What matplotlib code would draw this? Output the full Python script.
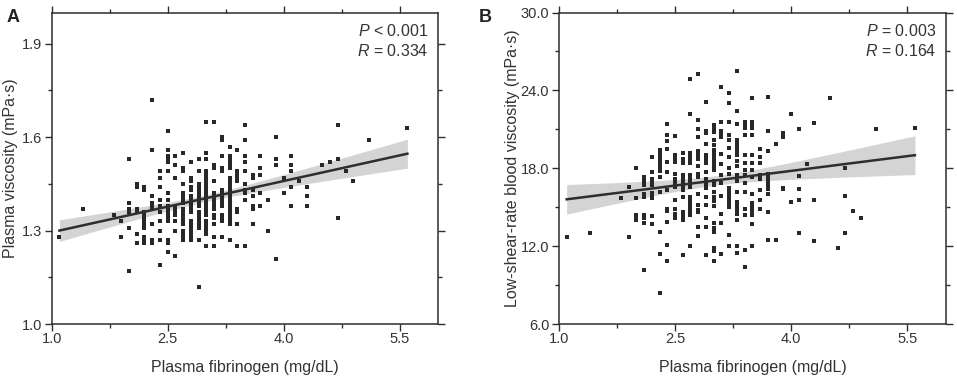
import numpy as np
import matplotlib
matplotlib.use("Agg")
import matplotlib.pyplot as plt

plt.rcParams['font.family'] = ['Liberation Sans', 'DejaVu Sans']
plt.rcParams['mathtext.fontset'] = 'custom'
plt.rcParams['mathtext.rm'] = 'Liberation Sans'
plt.rcParams['mathtext.it'] = 'Liberation Sans:italic'

# fibrinogen columns (mg/dL) and the values
fib_cols = [1.1, 1.4, 1.8, 1.9, 2.0, 2.1, 2.2, 2.3, 2.4, 2.5, 2.6, 2.7, 2.8, 2.9,
            3.0, 3.1, 3.2, 3.3, 3.4, 3.5, 3.6, 3.7, 3.8, 3.9, 4.0, 4.1, 4.2, 4.3,
            4.5, 4.6, 4.7, 4.8, 4.9, 5.1, 5.6]

# panel A: plasma viscosity (mPa.s)
pv_cols = [
    [1.28],
    [1.37],
    [1.35],
    [1.33, 1.28],
    [1.53, 1.39, 1.37, 1.36, 1.31, 1.17],
    [1.45, 1.44, 1.37, 1.36, 1.29, 1.26],
    [1.44, 1.43, 1.36, 1.35, 1.34, 1.33, 1.32, 1.31, 1.28, 1.27, 1.26],
    [1.72, 1.56, 1.41, 1.39, 1.38, 1.37, 1.32, 1.27, 1.26],
    [1.49, 1.47, 1.44, 1.40, 1.38, 1.36, 1.33, 1.30, 1.27, 1.19],
    [1.62, 1.56, 1.54, 1.53, 1.52, 1.49, 1.42, 1.40, 1.38, 1.37, 1.36, 1.35, 1.34, 1.33, 1.27, 1.26, 1.23],
    [1.54, 1.51, 1.47, 1.38, 1.37, 1.36, 1.35, 1.33, 1.30, 1.22],
    [1.55, 1.50, 1.49, 1.45, 1.42, 1.41, 1.40, 1.39, 1.37, 1.36, 1.35, 1.34, 1.33, 1.32, 1.30, 1.29, 1.28, 1.27],
    [1.52, 1.47, 1.46, 1.44, 1.43, 1.41, 1.40, 1.39, 1.38, 1.37, 1.36, 1.33, 1.32, 1.31, 1.30, 1.29, 1.28, 1.27],
    [1.53, 1.49, 1.45, 1.44, 1.43, 1.42, 1.41, 1.40, 1.39, 1.38, 1.36, 1.35, 1.34, 1.33, 1.32, 1.31, 1.27, 1.12],
    [1.65, 1.55, 1.53, 1.49, 1.48, 1.47, 1.46, 1.45, 1.44, 1.43, 1.42, 1.41, 1.40, 1.39, 1.38, 1.37, 1.36, 1.35,
     1.33, 1.32, 1.31, 1.30, 1.29, 1.25],
    [1.65, 1.51, 1.50, 1.46, 1.42, 1.41, 1.40, 1.39, 1.38, 1.37, 1.35, 1.34, 1.32, 1.28, 1.25],
    [1.60, 1.59, 1.54, 1.50, 1.49, 1.43, 1.42, 1.41, 1.40, 1.39, 1.38, 1.35, 1.34, 1.33, 1.28],
    [1.57, 1.54, 1.53, 1.52, 1.51, 1.50, 1.47, 1.46, 1.45, 1.44, 1.43, 1.42, 1.41, 1.40, 1.39, 1.38, 1.37, 1.36,
     1.35, 1.34, 1.33, 1.32, 1.27],
    [1.56, 1.49, 1.48, 1.47, 1.46, 1.37, 1.36, 1.32, 1.25],
    [1.64, 1.59, 1.54, 1.52, 1.49, 1.45, 1.43, 1.42, 1.40, 1.25],
    [1.48, 1.47, 1.43, 1.41, 1.38, 1.37, 1.32],
    [1.54, 1.50, 1.48, 1.42, 1.38],
    [1.40, 1.30],
    [1.60, 1.53, 1.51, 1.21],
    [1.47, 1.42],
    [1.54, 1.51, 1.49, 1.44, 1.38],
    [1.46],
    [1.44, 1.41, 1.38],
    [1.51],
    [1.52],
    [1.64, 1.53, 1.34],
    [1.49],
    [1.46],
    [1.59],
    [1.63],
]

# panel B: low-shear-rate blood viscosity (mPa.s)
lsv_cols = [
    [12.7],
    [13.0],
    [15.7],
    [16.6, 12.7],
    [18.0, 15.7, 14.4, 14.2, 14.0],
    [17.3, 17.0, 16.7, 16.0, 15.8, 14.4, 14.2, 13.8, 10.2],
    [18.9, 17.7, 17.2, 16.9, 16.7, 16.1, 15.9, 15.7, 14.3, 13.7],
    [19.4, 19.1, 18.9, 18.6, 18.4, 18.1, 17.8, 17.3, 16.2, 13.1, 11.4, 8.4],
    [21.4, 20.6, 20.1, 19.5, 18.5, 17.7, 16.3, 14.9, 14.7, 13.9, 12.1, 10.9],
    [20.5, 19.0, 18.8, 18.5, 17.6, 17.2, 16.9, 16.6, 15.6, 14.9, 14.5, 14.2],
    [19.2, 18.7, 18.4, 17.5, 17.2, 16.9, 16.6, 16.3, 15.8, 14.6, 14.3, 14.0, 11.3],
    [24.9, 22.2, 19.2, 18.9, 18.6, 18.4, 17.5, 17.2, 16.9, 16.6, 15.8, 15.5, 15.2, 15.0, 14.7, 14.4, 12.0],
    [25.3, 21.7, 21.0, 20.4, 19.3, 19.0, 18.7, 18.2, 17.6, 17.3, 16.0, 15.2, 14.8, 14.6, 13.5, 12.8],
    [23.1, 20.9, 20.7, 19.9, 19.0, 18.7, 18.4, 17.7, 17.2, 16.8, 16.5, 15.8, 15.2, 14.2, 13.5, 11.3],
    [21.3, 21.0, 20.8, 20.2, 19.8, 19.4, 19.1, 18.8, 18.5, 18.2, 17.9, 17.0, 16.7, 16.2, 15.8, 15.5, 15.1,
     13.8, 13.4, 13.1, 11.9, 11.6, 10.9],
    [24.3, 21.6, 20.9, 20.6, 20.4, 19.1, 18.3, 17.5, 16.9, 15.9, 14.5, 13.8, 11.4],
    [23.8, 23.0, 21.6, 20.6, 20.2, 19.6, 18.9, 18.0, 17.6, 16.5, 16.2, 15.9, 15.6, 15.3, 15.0, 12.9, 12.0],
    [25.5, 22.4, 21.4, 20.2, 19.9, 19.6, 19.3, 19.0, 18.6, 18.2, 17.5, 17.0, 16.2, 15.4, 15.1, 14.8, 14.5,
     14.0, 12.0, 11.5],
    [21.6, 21.4, 21.1, 20.6, 19.0, 18.4, 17.9, 17.5, 16.9, 16.2, 14.9, 14.4, 11.7, 10.4],
    [23.4, 21.6, 21.3, 21.1, 20.6, 19.0, 18.4, 17.9, 17.3, 16.0, 15.3, 15.0, 14.7, 14.4, 13.7, 12.0],
    [19.5, 18.9, 18.4, 17.5, 17.2, 16.3, 15.6, 14.9],
    [23.5, 20.9, 19.3, 17.6, 17.3, 17.0, 16.7, 16.4, 16.0, 14.6, 12.5],
    [19.9, 12.5],
    [20.7, 20.4, 16.5, 16.4],
    [22.2, 15.4],
    [21.0, 17.4, 16.4, 15.6, 13.0],
    [18.3],
    [21.5, 15.6, 12.4],
    [23.4],
    [11.9],
    [18.0, 15.9, 13.0],
    [14.7],
    [14.2],
    [21.0],
    [21.1],
]

stats_a = ["$\\it{P}$ < 0.001", "$\\it{R}$ = 0.334"]
stats_b = ["$\\it{P}$ = 0.003", "$\\it{R}$ = 0.164"]

dark = '#2e2e2e'


def expand(cols):
    xs, ys = [], []
    for xv, col in zip(fib_cols, cols):
        for yv in col:
            xs.append(xv)
            ys.append(yv)
    return np.array(xs), np.array(ys)


def panel(ax, cols, ylim, yticks, yminor, ylabel, stats, ylab_x):
    x, y = expand(cols)
    # linear fit with 95% confidence band
    n = len(x)
    b, a = np.polyfit(x, y, 1)
    xf = np.linspace(x.min(), x.max(), 100)
    yf = a + b * xf
    s = np.sqrt(np.sum((y - (a + b * x)) ** 2) / (n - 2))
    sxx = np.sum((x - x.mean()) ** 2)
    ci = 1.968 * s * np.sqrt(1.0 / n + (xf - x.mean()) ** 2 / sxx)
    ax.fill_between(xf, yf - ci, yf + ci, color='#d4d4d4', lw=0, zorder=1)
    ax.scatter(x, y, marker='s', s=8.5, c='#282828', lw=0, zorder=2)
    ax.plot(xf, yf, color=dark, lw=1.8, zorder=3)

    ax.set_xlim(1.0, 6.0)
    ax.set_ylim(*ylim)
    ax.set_xticks([1.0, 2.5, 4.0, 5.5])
    ax.set_xticks([1.75, 3.25, 4.75], minor=True)
    ax.set_yticks(yticks)
    ax.set_yticks(yminor, minor=True)
    ax.xaxis.set_major_formatter('{x:.1f}')
    ax.yaxis.set_major_formatter('{x:.1f}')
    ax.tick_params(which='both', direction='out', top=True, right=True, color=dark,
                   labelsize=10.5, labelcolor='#333333', width=1)
    ax.tick_params(which='major', length=5)
    ax.tick_params(which='minor', length=3)
    ax.tick_params(axis='x', which='major', pad=0.5)
    ax.tick_params(axis='y', which='major', pad=2)
    for sp in ax.spines.values():
        sp.set_color(dark)
        sp.set_linewidth(1.1)
    ax.set_xlabel('Plasma fibrinogen (mg/dL)', fontsize=11.5, color='#333333', labelpad=10)
    ax.set_ylabel(ylabel, fontsize=11.5, color='#333333')
    ax.yaxis.set_label_coords(ylab_x, 0.5)
    ax.text(0.975, 0.94, stats[0], transform=ax.transAxes, ha='right', va='center',
            fontsize=11.5, color='#333333')
    ax.text(0.975, 0.875, stats[1], transform=ax.transAxes, ha='right', va='center',
            fontsize=11.5, color='#333333')


fig = plt.figure(figsize=(9.57, 3.8), dpi=100)
ax1 = fig.add_axes([0.054, 0.147, 0.404, 0.82])
ax2 = fig.add_axes([0.584, 0.147, 0.4044, 0.82])

panel(ax1, pv_cols, (1.0, 2.0), [1.0, 1.3, 1.6, 1.9], [1.15, 1.45, 1.75],
      'Plasma viscosity (mPa·s)', stats_a, -0.086)
panel(ax2, lsv_cols, (6.0, 30.0), [6.0, 12.0, 18.0, 24.0, 30.0], [9.0, 15.0, 21.0, 27.0],
      'Low-shear-rate blood viscosity (mPa·s)', stats_b, -0.101)

fig.text(0.007, 0.975, 'A', fontsize=13, fontweight='bold', va='top', color='#222222')
fig.text(0.500, 0.975, 'B', fontsize=13, fontweight='bold', va='top', color='#222222')

fig.savefig('out.png', dpi=100)
